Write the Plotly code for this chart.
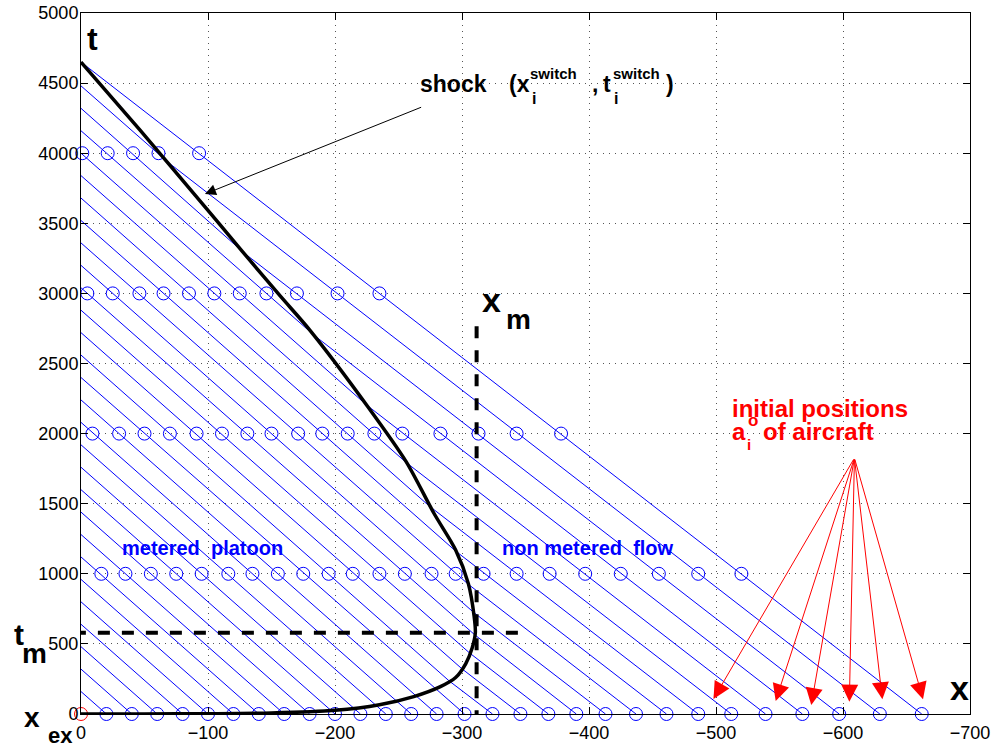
import plotly.graph_objects as go

# ---------------- data ----------------
# initial positions a_i of the aircraft (t = 0)
a_init = [0, -20, -40, -60, -80, -100, -120, -140, -160, -180, -200, -220, -240, -260, -280, -302,
          -324, -346, -368, -390, -413, -437, -461, -486, -512, -539, -568, -597, -629, -662]
# arrival times at x = 0
t_arrive = [0, 160, 320, 480, 640, 800, 960, 1120, 1280, 1440, 1600, 1760, 1920, 2080, 2240, 2400,
            2560, 2720, 2880, 3040, 3200, 3360, 3520, 3680, 3840, 4000, 4160, 4320, 4480, 4650]
# switch points (on the shock) of the non metered aircraft (index 16..29)
first_unmetered = 16
x_switch = [-290, -300, -306, -310, -309, -305, -295, -274, -256, -225, -184, -129, -68, 0]
t_switch = [235, 322, 435, 565, 726, 925, 1162, 1485, 1794, 2203, 2698, 3284, 3939, 4650]

# aircraft positions at the snapshot times
snap_times = [1000, 2000, 3000, 4000]
snap_1000 = [-16, -35, -55, -75, -95, -116, -135, -155, -175, -195, -214, -235, -255, -276, -295,
             -317, -343, -369, -397, -425, -455, -486, -520]
snap_2000 = [-9, -30, -50, -70, -91, -111, -131, -150, -171, -190, -210, -231, -253, -283, -313,
             -343, -378]
snap_3000 = [-5, -25, -46, -65, -85, -105, -125, -146, -170, -202, -235]
snap_4000 = [-1, -21, -41, -61, -93]
snapshots = [snap_1000, snap_2000, snap_3000, snap_4000]

# shock curve
shock_x = [0, -50, -100, -150, -200, -235, -262, -283, -295, -303, -308, -310.5, -309.5, -305,
           -295, -278, -256, -226, -180, -157, -127, -90, -46.5, 0]
shock_t = [0, 0.5, 2, 7, 26, 66, 124, 195, 260, 360, 470, 580, 700, 930, 1170, 1430, 1800, 2190,
           2740, 2980, 3300, 3700, 4165, 4650]

# metering point / time
x_m = -311.5
x_m_top = 2765
t_m = 580
t_m_right = -344

# arrows
red_tip_x = [-498, -547, -575, -605, -631, -663]
red_tip_t = [107, 93, 64, 88, 105, 105]
red_tail = (-609, 1826)
shock_arrow_tip = (-97.6, 3709)
shock_arrow_tail = (-269, 4332)

x_ticks = [0, -100, -200, -300, -400, -500, -600, -700]
y_ticks = [0, 500, 1000, 1500, 2000, 2500, 3000, 3500, 4000, 4500, 5000]

FONT = "Liberation Sans, Arial, Helvetica, sans-serif"
BLUE = "#0000ff"
RED = "#ff0000"

# ---------------- figure ----------------
fig = go.Figure()

# trajectories
tx, tt = [], []
for i in range(1, len(a_init)):
    tx.append(a_init[i]); tt.append(0)
    if i >= first_unmetered:
        k = i - first_unmetered
        tx.append(x_switch[k]); tt.append(t_switch[k])
    tx.append(0); tt.append(t_arrive[i])
    tx.append(None); tt.append(None)
fig.add_trace(go.Scatter(x=tx, y=tt, mode="lines", line=dict(color=BLUE, width=1),
                         hoverinfo="skip"))

# circles at t = 0
fig.add_trace(go.Scatter(x=a_init[1:], y=[0] * (len(a_init) - 1), mode="markers",
                         marker=dict(symbol="circle-open", size=13, color=BLUE, line=dict(width=1)),
                         cliponaxis=False))
fig.add_trace(go.Scatter(x=[a_init[0]], y=[0], mode="markers",
                         marker=dict(symbol="circle-open", size=13, color=RED, line=dict(width=1)),
                         cliponaxis=False))
# snapshot circles
for tsnap, xs in zip(snap_times, snapshots):
    fig.add_trace(go.Scatter(x=xs, y=[tsnap] * len(xs), mode="markers",
                             marker=dict(symbol="circle-open", size=13, color=BLUE,
                                         line=dict(width=1)),
                             cliponaxis=False))

# shock
fig.add_trace(go.Scatter(x=shock_x, y=shock_t, mode="lines",
                         line=dict(color="black", width=3.5, shape="spline", smoothing=0.8)))

# dashed metering lines
fig.add_trace(go.Scatter(x=[x_m, x_m], y=[x_m_top, 0], mode="lines",
                         line=dict(color="black", width=4, dash="12px,12px")))
fig.add_trace(go.Scatter(x=[t_m_right, 0], y=[t_m, t_m], mode="lines",
                         line=dict(color="black", width=4, dash="12px,12px")))

# red arrows
for xt, yt in zip(red_tip_x, red_tip_t):
    fig.add_annotation(x=xt, y=yt, ax=red_tail[0], ay=red_tail[1], xref="x", yref="y",
                       axref="x", ayref="y", text="", showarrow=True, arrowhead=2,
                       arrowsize=3.4, arrowwidth=1, arrowcolor=RED)
# shock arrow
fig.add_annotation(x=shock_arrow_tip[0], y=shock_arrow_tip[1], ax=shock_arrow_tail[0],
                   ay=shock_arrow_tail[1], xref="x", yref="y", axref="x", ayref="y", text="",
                   showarrow=True, arrowhead=2, arrowsize=2.2, arrowwidth=1, arrowcolor="black")

# ---------------- text (positions in pixels of the 1003x749 page) ----------------
L, R, T, B = 81, 970, 13, 714
FW, FH = 1003, 749


def label(text, x, y, size, color="black", xanchor="center"):
    fig.add_annotation(text="<b>" + text + "</b>", x=(x - L) / (R - L), y=(B - y) / (B - T),
                       xref="paper", yref="paper", xanchor=xanchor, yanchor="middle",
                       showarrow=False, borderpad=0,
                       font=dict(size=size, color=color, family=FONT))


label("t", 92.5, 39, 32)
label("x", 491, 300, 34)
label("m", 518, 319, 28)
label("t", 18.5, 634, 30)
label("m", 34, 653, 28)
label("x", 31.5, 717, 28)
label("ex", 60, 735, 22)
label("x", 959, 688, 34)

label("shock", 419, 84, 23, xanchor="left")
label("(x", 508, 84, 23, xanchor="left")
label("switch", 529, 73, 15, xanchor="left")
label("i", 534, 98, 16)
label(",", 591, 84, 23, xanchor="left")
label("t", 602, 84, 23, xanchor="left")
label("switch", 612, 73, 15, xanchor="left")
label("i", 616, 98, 16)
label(")", 665, 84, 23, xanchor="left")

label("metered  platoon", 121, 548, 20, color=BLUE, xanchor="left")
label("non metered  flow", 501, 548, 20, color=BLUE, xanchor="left")

label("initial positions", 731, 408, 24, color=RED, xanchor="left")
label("a", 731, 431, 24, color=RED, xanchor="left")
label("o", 747, 421, 17, color=RED, xanchor="left")
label("i", 749, 445, 15, color=RED)
label("of aircraft", 762, 431, 24, color=RED, xanchor="left")

axis_common = dict(showline=True, linecolor="black", linewidth=1, mirror="ticks",
                   ticks="inside", ticklen=7, tickwidth=1, tickcolor="black",
                   showgrid=True, gridcolor="#555555", griddash="1px,5px", gridwidth=1,
                   zeroline=False, automargin=False, ticklabeloverflow="allow",
                   tickfont=dict(family=FONT, size=18, color="black"))

fig.update_xaxes(range=[0, -700], tickvals=x_ticks, ticklabelstandoff=2, **axis_common)
fig.update_yaxes(range=[0, 5000], tickvals=y_ticks, ticklabelstandoff=-2, **axis_common)

fig.update_layout(width=FW, height=FH, showlegend=False,
                  margin=dict(l=L, r=FW - R, t=T, b=FH - B),
                  paper_bgcolor="white", plot_bgcolor="white",
                  font=dict(family=FONT, color="black"))

# remove the default 8px page margin so the figure fills the window exactly
fig.write_html("out.html", config={"displayModeBar": False},
               post_script="document.body.style.margin='0px';")
